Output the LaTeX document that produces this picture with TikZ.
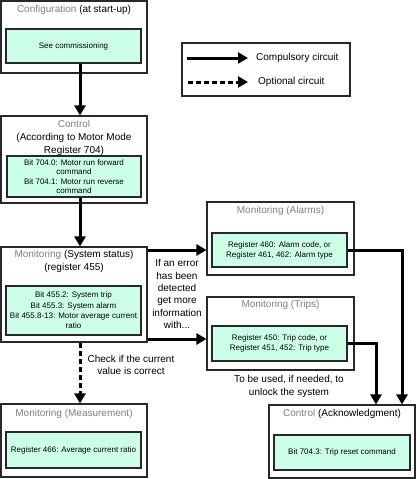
\documentclass[tikz,border=0pt]{standalone}
\usepackage{fontspec}
\setmainfont{Liberation Sans}
\usetikzlibrary{arrows.meta}
\definecolor{mint}{RGB}{204,255,232}
\definecolor{ttlgray}{RGB}{128,128,128}
\definecolor{edge}{RGB}{40,40,40}
\begin{document}
\begin{tikzpicture}[x=1pt,y=-1pt,
  outerbox/.style={draw=edge,line width=1.1pt,fill=white,inner sep=0pt},
  innerbox/.style={draw=edge,line width=1.5pt,fill=mint,inner sep=0pt,align=center,font=\fontsize{8}{9.6}\selectfont},
  ttl/.style={inner sep=0pt,align=center,font=\fontsize{10}{13}\selectfont},
  note/.style={inner sep=0pt,align=center,font=\fontsize{10}{12.3}\selectfont},
  comp/.style={line width=3pt,-{Triangle[length=10pt,width=11pt]}},
  opt/.style={comp,dash pattern=on 5pt off 3pt}]
\useasboundingbox (0,0) rectangle (416,479);
% Configuration
\node[outerbox,minimum width=146,minimum height=72] (cfg) at (74,37) {};
\node[ttl] (cfgt) at (74,10) {\textcolor{ttlgray}{Configuration} (at start-up)};
\node[innerbox,minimum width=135,minimum height=34] (cfgin) at (73.5,46) {See commissioning};
% Legend
\node[outerbox,minimum width=168,minimum height=53] (leg) at (266,69.5) {};
\coordinate (l1a) at (187,58); \coordinate (l1b) at (248,58);
\coordinate (l2a) at (188,82); \coordinate (l2b) at (248,82);
\draw[comp] (l1a) -- (l1b);
\draw[opt] (l2a) -- (l2b);
\node[note,anchor=west] (l1t) at (256,58) {Compulsory circuit};
\node[note,anchor=west] (l2t) at (258,81.5) {Optional circuit};
% Control
\node[outerbox,minimum width=146,minimum height=87] (ctrl) at (74,159.5) {};
\node[ttl] (ctrlt) at (74,137.5) {\textcolor{ttlgray}{Control}\\(According to Motor Mode\\Register 704)};
\node[innerbox,minimum width=134,minimum height=41,font=\fontsize{8}{9.4}\selectfont] (ctrlin) at (74,176.5) {Bit 704.0: Motor run forward\\command\\Bit 704.1: Motor run reverse\\command};
% System status
\node[outerbox,minimum width=146,minimum height=95] (sys) at (74,294.5) {};
\node[ttl] (syst) at (74,261.5) {\textcolor{ttlgray}{Monitoring} (System status)\\(register 455)};
\node[innerbox,minimum width=135,minimum height=49,font=\fontsize{8}{10.3}\selectfont] (sysin) at (73.5,310.5) {Bit 455.2: System trip\\Bit 455.3: System alarm\\Bit 455.8-13: Motor average current\\ratio};
% Measurement
\node[outerbox,minimum width=146,minimum height=73] (meas) at (74,440.5) {};
\node[ttl] (meast) at (74,414) {\textcolor{ttlgray}{Monitoring (Measurement)}};
\node[innerbox,minimum width=135,minimum height=36] (measin) at (73.5,450) {Register 466: Average current ratio};
% Alarms
\node[outerbox,minimum width=147,minimum height=73] (al) at (280.5,238.5) {};
\node[ttl] (alt) at (280.5,211) {\textcolor{ttlgray}{Monitoring (Alarms)}};
\node[innerbox,minimum width=135,minimum height=34,font=\fontsize{8}{10}\selectfont] (alin) at (279.5,250) {Register 460: Alarm code, or\\Register 461, 462: Alarm type};
% Trips
\node[outerbox,minimum width=147,minimum height=73] (tr) at (280.5,333.5) {};
\node[ttl] (trt) at (280.5,305) {\textcolor{ttlgray}{Monitoring (Trips)}};
\node[innerbox,minimum width=135,minimum height=35,font=\fontsize{8}{10}\selectfont] (trin) at (279.5,343.5) {Register 450: Trip code, or\\Register 451, 452: Trip type};
% Acknowledgment
\node[outerbox,minimum width=146,minimum height=73] (ack) at (342,441.5) {};
\node[ttl] (ackt) at (342,414) {\textcolor{ttlgray}{Control} (Acknowledgment)};
\node[innerbox,minimum width=136,minimum height=35] (ackin) at (342,452.5) {Bit 704.3: Trip reset command};
% Notes
\node[note] (n1) at (177,294) {If an error\\has been\\detected\\get more\\information\\with...};
\node[note] (n2) at (131,365) {Check if the current\\value is correct};
\node[note] (n3) at (289,386.5) {To be used, if needed, to\\unlock the system};
% Connectors
\draw[comp] ([xshift=6.5pt]cfgin.south) -- ([xshift=6pt]ctrl.north);
\draw[comp] ([xshift=6pt]ctrlin.south) -- ([xshift=6pt]sys.north);
\draw[comp] (sys.east |- alin.west) -- (al.west |- alin.west);
\draw[comp] ([yshift=4.5pt]sys.east |- trin.west) -- ([yshift=4.5pt]tr.west |- trin.west);
\draw[opt] ([xshift=6pt]sys.south) -- ([xshift=6pt]meas.north);
\draw[comp] (alin.east) -| ([xshift=60pt]ack.north);
\draw[comp] (trin.east) -| ([xshift=34pt]ack.north);
\end{tikzpicture}
\end{document}
